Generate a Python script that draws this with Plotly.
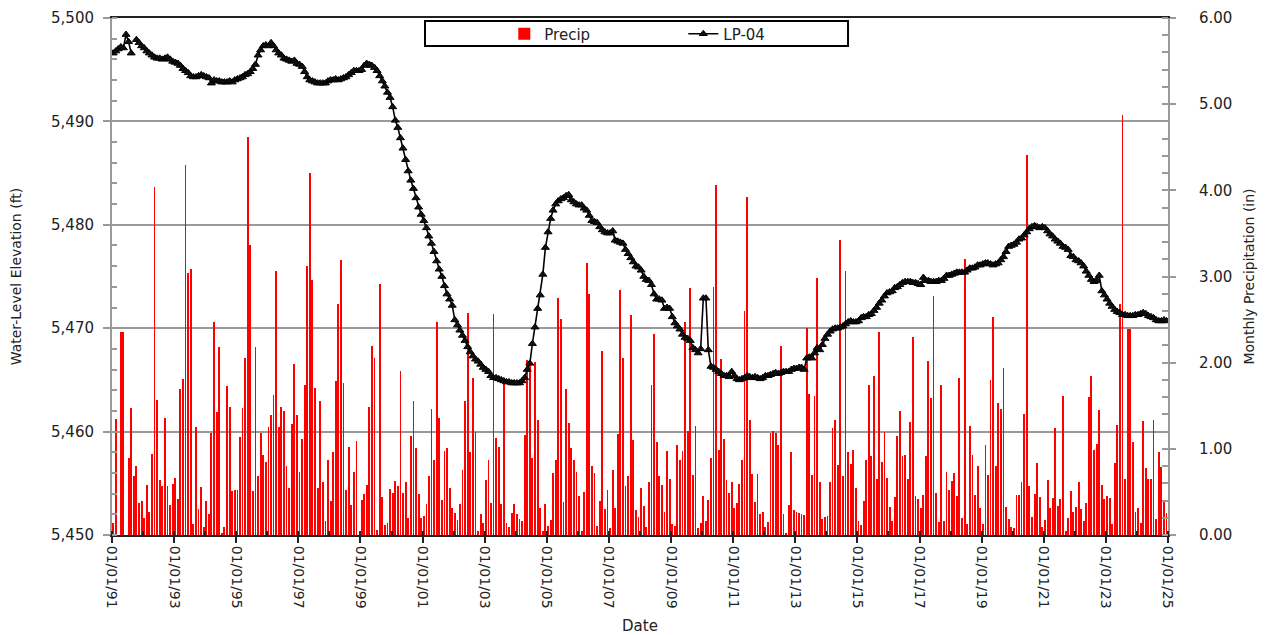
import plotly.graph_objects as go

# ---------------- Monthly precipitation (in), Jan..Dec ----------------
precip_1991 = [0.14, 1.35, 0.00, 2.36, 2.36, 0.00, 0.89, 1.47, 0.69, 0.80, 0.37, 0.40]
precip_1992 = [0.20, 0.58, 0.27, 0.94, 4.04, 1.57, 0.64, 0.57, 1.36, 0.57, 0.35, 0.59]
precip_1993 = [0.66, 0.42, 1.69, 1.81, 4.29, 3.04, 3.09, 0.13, 1.25, 0.30, 0.56, 0.09]
precip_1994 = [0.39, 0.24, 1.18, 2.47, 1.43, 2.18, 0.02, 0.09, 1.73, 1.49, 0.51, 0.52]
precip_1995 = [0.52, 1.14, 1.47, 2.05, 4.62, 3.37, 0.51, 2.18, 0.69, 1.18, 0.93, 0.85]
precip_1996 = [1.25, 1.39, 1.63, 3.06, 1.25, 1.49, 1.44, 0.80, 0.55, 1.29, 1.98, 1.39]
precip_1997 = [0.73, 1.11, 1.74, 3.12, 4.20, 2.96, 1.71, 0.55, 1.56, 0.62, 0.16, 0.87]
precip_1998 = [0.40, 0.96, 1.79, 2.68, 3.19, 1.76, 0.52, 1.02, 0.35, 0.73, 1.09, 0.00]
precip_1999 = [0.41, 0.48, 0.58, 1.49, 2.19, 2.06, 0.06, 2.91, 0.44, 0.12, 0.14, 0.53]
precip_2000 = [0.49, 0.63, 0.57, 1.90, 0.49, 0.62, 0.20, 1.15, 1.55, 1.01, 0.48, 0.20]
precip_2001 = [0.22, 0.36, 0.69, 1.46, 0.87, 2.47, 1.36, 0.41, 0.97, 1.01, 0.55, 0.31]
precip_2002 = [0.25, 0.17, 0.36, 0.75, 1.56, 2.58, 0.96, 1.82, 1.19, 0.05, 0.24, 0.14]
precip_2003 = [0.64, 0.87, 0.37, 2.56, 1.13, 1.02, 0.36, 1.75, 0.14, 0.09, 0.25, 0.36]
precip_2004 = [0.24, 0.19, 0.16, 1.16, 2.03, 1.98, 0.89, 2.01, 1.34, 0.31, 0.05, 0.36]
precip_2005 = [0.10, 0.17, 0.72, 0.87, 2.75, 2.51, 0.38, 1.70, 1.30, 1.01, 0.87, 0.73]
precip_2006 = [0.45, 0.05, 0.50, 3.16, 2.80, 0.80, 0.72, 0.10, 0.40, 2.13, 0.30, 0.52]
precip_2007 = [0.08, 0.75, 0.31, 1.17, 2.84, 2.05, 0.57, 0.68, 2.55, 1.10, 0.29, 0.21]
precip_2008 = [0.55, 0.34, 0.09, 0.62, 1.74, 2.33, 1.08, 0.69, 0.58, 0.27, 0.97, 0.65]
precip_2009 = [0.13, 0.11, 1.05, 0.87, 0.98, 2.47, 1.21, 2.87, 0.70, 1.27, 0.08, 0.14]
precip_2010 = [0.45, 0.16, 0.41, 0.89, 2.88, 4.06, 0.99, 2.04, 1.11, 0.64, 0.49, 0.62]
precip_2011 = [0.31, 0.37, 0.59, 0.87, 2.60, 3.92, 1.34, 0.71, 0.38, 0.71, 0.24, 0.27]
precip_2012 = [0.09, 0.15, 1.18, 1.21, 1.18, 1.04, 2.19, 0.24, 0.02, 0.35, 0.96, 0.29]
precip_2013 = [0.27, 0.25, 0.24, 0.23, 2.40, 1.64, 0.70, 1.61, 2.98, 0.62, 0.19, 0.21]
precip_2014 = [0.22, 0.62, 1.24, 1.34, 0.81, 3.42, 0.68, 3.06, 0.96, 0.82, 0.99, 0.55]
precip_2015 = [0.16, 0.12, 0.40, 0.87, 1.74, 0.92, 1.85, 0.65, 2.36, 0.85, 1.19, 0.66]
precip_2016 = [0.33, 0.16, 0.44, 1.15, 1.44, 0.92, 0.93, 0.65, 1.31, 2.30, 0.45, 0.42]
precip_2017 = [0.31, 0.47, 0.92, 2.02, 1.59, 2.77, 0.49, 0.15, 1.74, 0.16, 0.73, 0.52]
precip_2018 = [0.63, 0.72, 0.45, 1.82, 0.20, 3.20, 0.13, 1.27, 0.93, 0.47, 0.80, 0.31]
precip_2019 = [0.13, 1.04, 0.70, 1.80, 2.53, 0.80, 1.53, 1.46, 1.94, 0.33, 0.19, 0.09]
precip_2020 = [0.08, 0.47, 0.47, 0.62, 1.41, 4.41, 0.57, 0.21, 0.48, 0.83, 0.44, 0.09]
precip_2021 = [0.17, 0.64, 0.31, 0.43, 1.24, 0.34, 0.42, 1.61, 0.05, 0.20, 0.51, 0.27]
precip_2022 = [0.33, 0.61, 0.30, 0.16, 0.37, 1.60, 1.84, 0.99, 1.06, 1.45, 0.58, 0.42]
precip_2023 = [0.45, 0.43, 0.13, 0.83, 1.28, 2.68, 4.88, 0.65, 2.39, 2.39, 1.08, 0.27]
precip_2024 = [0.31, 0.14, 1.32, 0.78, 0.65, 0.65, 1.33, 0.18, 0.96, 0.79, 0.40, 0.26]

# ---------------- LP-04 water-level elevation (ft), Jan..Dec ----------------
level_1991 = [5496.6, 5496.8, 5497.0, 5497.2, 5497.1, 5498.4, 5497.7, 5496.6, None, 5497.9, 5497.6, 5497.3]
level_1992 = [5497.1, 5496.8, 5496.6, 5496.4, 5496.2, 5496.1, 5496.1, 5496.0, 5496.1, 5496.2, 5496.0, 5495.8]
level_1993 = [5495.7, 5495.6, 5495.4, 5495.1, 5494.9, 5494.7, 5494.4, 5494.3, 5494.3, 5494.4, 5494.5, 5494.4]
level_1994 = [5494.3, 5494.2, 5493.7, 5494.0, 5493.9, 5493.9, 5493.8, 5493.8, 5493.8, 5493.9, 5493.8, 5494.0]
level_1995 = [5494.1, 5494.2, 5494.3, 5494.5, 5494.6, 5494.8, 5495.1, 5495.5, 5496.4, 5496.9, 5497.3, 5497.4]
level_1996 = [5497.3, 5497.6, 5497.3, 5496.9, 5496.6, 5496.4, 5496.1, 5496.0, 5495.9, 5495.8, 5495.9, 5495.6]
level_1997 = [5495.5, 5495.3, 5494.8, 5494.3, 5494.0, 5493.9, 5493.8, 5493.7, 5493.7, 5493.7, 5493.7, 5493.9]
level_1998 = [5494.0, 5494.0, 5494.1, 5494.0, 5494.1, 5494.2, 5494.3, 5494.5, 5494.7, 5494.9, 5494.9, 5494.9]
level_1999 = [5495.0, 5495.4, 5495.6, 5495.5, 5495.4, 5495.2, 5494.9, 5494.4, 5493.9, 5493.4, 5492.8, 5492.3]
level_2000 = [5491.4, 5490.1, 5489.4, 5488.4, 5487.4, 5486.3, 5485.2, 5484.3, 5483.5, 5482.6, 5481.7, 5481.0]
level_2001 = [5480.4, 5479.7, 5478.9, 5478.2, 5477.4, 5476.5, 5475.7, 5475.0, 5474.1, 5473.3, 5472.8, 5472.2]
level_2002 = [5470.8, 5470.3, 5469.8, 5469.3, 5468.8, 5468.2, 5467.7, 5467.3, 5467.0, 5466.8, 5466.5, 5466.2]
level_2003 = [5466.0, 5465.8, 5465.4, 5465.2, 5465.2, 5465.1, 5465.0, 5464.9, 5464.8, 5464.8, 5464.7, 5464.7]
level_2004 = [5464.7, 5464.7, 5464.9, 5465.2, 5466.0, 5466.6, 5468.5, 5470.1, 5471.9, 5473.2, 5475.2, 5477.8]
level_2005 = [5479.3, 5480.6, 5481.4, 5482.0, 5482.3, 5482.5, 5482.6, 5482.8, 5482.9, 5482.4, 5482.2, 5482.0]
level_2006 = [5481.9, 5481.9, 5481.6, 5481.4, 5480.9, 5480.4, 5480.3, 5480.2, 5479.8, 5479.5, 5479.3, 5479.2]
level_2007 = [5479.2, 5479.4, 5478.5, 5478.4, 5478.3, 5478.2, 5477.6, 5477.2, 5476.8, 5476.4, 5476.0, 5475.9]
level_2008 = [5475.6, 5475.0, 5474.7, 5474.6, 5474.2, 5473.3, 5472.8, 5472.8, 5472.7, 5471.9, 5472.0, 5471.9]
level_2009 = [5471.1, 5470.5, 5470.2, 5469.9, 5469.4, 5469.1, 5469.0, 5468.8, 5468.1, 5467.9, 5467.6, 5468.0]
level_2010 = [5472.9, 5472.9, 5467.9, 5466.3, 5466.2, 5466.0, 5465.8, 5465.6, 5465.4, 5465.4, 5465.3, 5465.8]
level_2011 = [5465.4, 5465.1, 5465.0, 5465.1, 5465.2, 5465.4, 5465.3, 5465.2, 5465.3, 5465.2, 5465.1, 5465.2]
level_2012 = [5465.4, 5465.4, 5465.5, 5465.6, 5465.7, 5465.6, 5465.7, 5465.8, 5465.8, 5465.8, 5466.0, 5466.1]
level_2013 = [5466.1, 5466.2, 5466.2, 5466.0, 5467.1, 5467.2, 5467.1, 5467.6, 5468.1, 5467.9, 5468.4, 5469.0]
level_2014 = [5469.4, 5469.7, 5469.9, 5470.0, 5470.0, 5470.1, 5470.2, 5470.4, 5470.6, 5470.7, 5470.6, 5470.6]
level_2015 = [5470.7, 5471.0, 5471.1, 5471.1, 5471.3, 5471.4, 5471.7, 5472.0, 5472.4, 5472.7, 5473.1, 5473.4]
level_2016 = [5473.5, 5473.6, 5473.9, 5474.0, 5474.2, 5474.4, 5474.5, 5474.5, 5474.5, 5474.4, 5474.4, 5474.3]
level_2017 = [5474.2, 5474.9, 5474.6, 5474.6, 5474.5, 5474.5, 5474.5, 5474.6, 5474.6, 5474.8, 5475.1, 5475.1]
level_2018 = [5475.2, 5475.3, 5475.4, 5475.4, 5475.4, 5475.4, 5475.6, 5475.8, 5475.8, 5475.9, 5476.1, 5476.1]
level_2019 = [5476.2, 5476.3, 5476.3, 5476.2, 5476.1, 5476.2, 5476.3, 5476.6, 5476.9, 5477.4, 5477.9, 5478.0]
level_2020 = [5478.1, 5478.3, 5478.6, 5478.7, 5479.0, 5479.3, 5479.6, 5479.8, 5479.9, 5479.8, 5479.7, 5479.8]
level_2021 = [5479.7, 5479.4, 5479.1, 5478.9, 5478.6, 5478.4, 5478.2, 5477.9, 5477.8, 5477.6, 5477.0, 5476.9]
level_2022 = [5476.6, 5476.5, 5476.3, 5476.0, 5475.5, 5475.1, 5474.7, 5474.5, 5474.6, 5475.1, 5473.6, 5473.2]
level_2023 = [5472.8, 5472.4, 5472.1, 5471.8, 5471.6, 5471.5, 5471.3, 5471.3, 5471.2, 5471.2, 5471.2, 5471.3]
level_2024 = [5471.3, 5471.4, 5471.5, 5471.4, 5471.2, 5471.1, 5471.0, 5470.8, 5470.7, 5470.7, 5470.8, 5470.7]

YEARS = list(range(1991, 2025))
MONTHS = list(range(1, 13))

precip = []
level = []
dates = []
for yr in YEARS:
    precip += globals()[f"precip_{yr}"]
    level += globals()[f"level_{yr}"]
    dates += [f"{yr}-{m:02d}-15" for m in MONTHS]

FONT = "DejaVu Sans"
TXT = "#222222"
GRID = "#9a9a9a"

fig = go.Figure()

fig.add_trace(go.Bar(
    x=dates, y=precip, name="Precip", yaxis="y",
    marker=dict(color="#ff0000", line=dict(width=0)),
    width=10 * 86400000,
))

fig.add_trace(go.Scatter(
    x=dates, y=level, name="LP-04", yaxis="y2",
    mode="lines+markers", connectgaps=False,
    line=dict(color="black", width=1.6),
    marker=dict(symbol="triangle-up", size=7, color="#111111",
                line=dict(color="black", width=1)),
))

# page body adds an 8 px margin, so the figure is 8 px smaller
fig.update_layout(
    width=1262, height=627, autosize=False,
    margin=dict(l=104, r=102, t=10, b=100),
    paper_bgcolor="white", plot_bgcolor="white",
    font=dict(family=FONT, color=TXT, size=15),
    showlegend=True,
    bargap=0,
    legend=dict(
        orientation="h", x=0.3715, xanchor="left", y=0.969, yanchor="middle",
        bgcolor="rgba(0,0,0,0)", borderwidth=0,
        font=dict(family=FONT, size=15, color=TXT),
        entrywidth=134, entrywidthmode="pixels",
    ),
    xaxis=dict(
        type="date", automargin=False,
        range=["1991-01-01", "2025-01-01"],
        tick0="1991-01-01", dtick="M24", tickformat="%m/%d/%y",
        tickangle=90,
        tickfont=dict(family=FONT, size=14, color=TXT),
        ticks="outside", ticklen=6, tickwidth=2, tickcolor="#222222",
        minor=dict(dtick="M12", ticks="inside", ticklen=4, tickwidth=2, tickcolor="#222222"),
        showgrid=False, zeroline=False,
        showline=True, linecolor="#222222", linewidth=2, mirror=True,
        title=dict(text="Date", font=dict(family=FONT, size=15, color=TXT), standoff=13),
    ),
    yaxis=dict(
        side="right", range=[0, 6], dtick=1, tick0=0, tickformat=".2f",
        automargin=False,
        tickfont=dict(family=FONT, size=15, color=TXT),
        ticks="outside", ticklen=6, tickwidth=1.5, tickcolor=GRID,
        minor=dict(dtick=0.2, ticks="inside", ticklen=6, tickwidth=1.5, tickcolor=GRID),
        showgrid=False, zeroline=False,
        showline=True, linecolor=GRID, linewidth=2,
        ticklabelstandoff=20,
        title=dict(text="Monthly Precipitation (in)", font=dict(family=FONT, size=14, color=TXT), standoff=13),
    ),
    yaxis2=dict(
        overlaying="y", side="left", range=[5450, 5500], dtick=10, tick0=5450,
        automargin=False,
        tickformat=",",
        tickfont=dict(family=FONT, size=15, color=TXT),
        ticks="outside", ticklen=7, tickwidth=1.5, tickcolor=GRID,
        minor=dict(dtick=2, ticks="inside", ticklen=5, tickwidth=1.5, tickcolor=GRID),
        showgrid=True, gridcolor=GRID, gridwidth=2,
        zeroline=False,
        showline=True, linecolor=GRID, linewidth=2,
        ticklabelstandoff=6,
        title=dict(text="Water-Level Elevation (ft)", font=dict(family=FONT, size=14, color=TXT), standoff=27),
    ),
    shapes=[dict(
        type="rect", xref="paper", yref="paper",
        x0=0.2964, x1=0.697, y0=0.9458, y1=0.9942,
        line=dict(color="black", width=2), fillcolor="white", layer="above",
    )],
)

fig.write_html("out.html")
